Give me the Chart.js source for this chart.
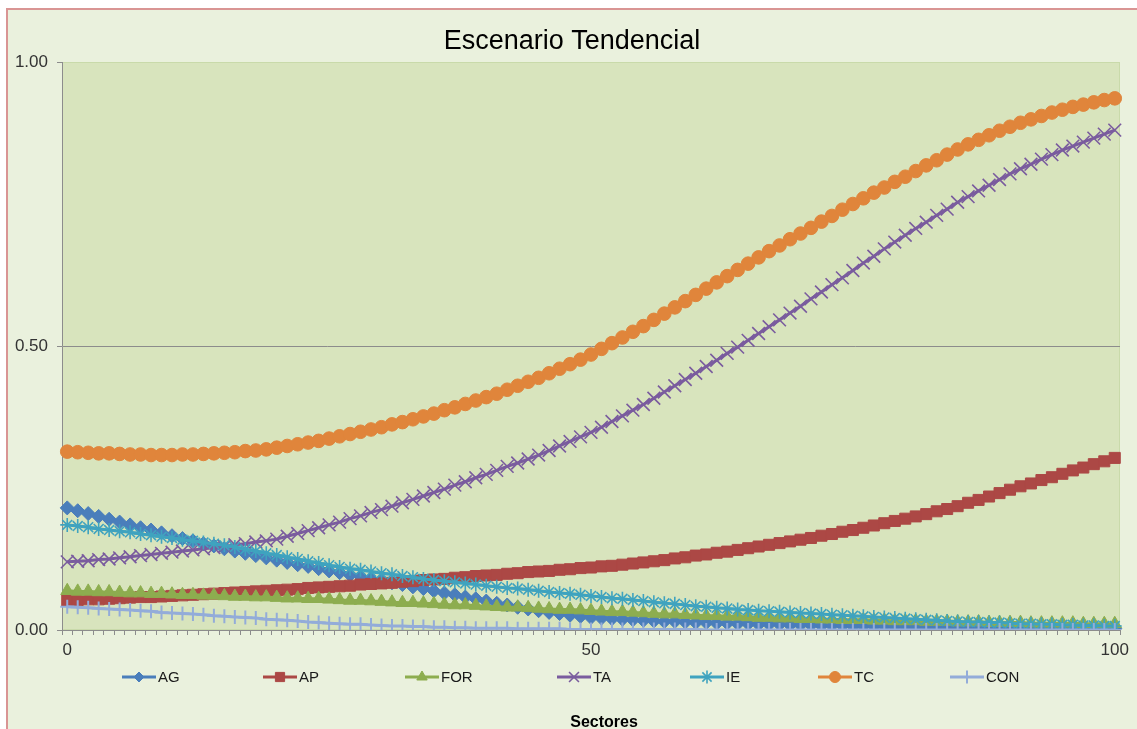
<!DOCTYPE html>
<html>
<head>
<meta charset="utf-8">
<title>Escenario Tendencial</title>
<script src="https://cdn.jsdelivr.net/npm/chart.js@4.4.1/dist/chart.umd.min.js"></script>
<style>
  html, body { margin: 0; padding: 0; background: #ffffff; }
  #wrap { width: 1137px; height: 729px; position: relative; }
  canvas { display: block; }
</style>
</head>
<body>
<div id="wrap"><canvas id="chart" width="1137" height="729"></canvas></div>
<script>
// Sector index along the horizontal axis
const sectors = [
  0,1,2,3,4,5,6,7,8,9,10,11,12,13,14,15,16,17,18,19,20,
  21,22,23,24,25,26,27,28,29,30,31,32,33,34,35,36,37,38,39,40,
  41,42,43,44,45,46,47,48,49,50,51,52,53,54,55,56,57,58,59,60,
  61,62,63,64,65,66,67,68,69,70,71,72,73,74,75,76,77,78,79,80,
  81,82,83,84,85,86,87,88,89,90,91,92,93,94,95,96,97,98,99,100
];
const xTickLabels = ['0', '50', '100'];
const yTicks = [0, 0.5, 1];

const seriesNames = ['AG', 'AP', 'FOR', 'TA', 'IE', 'TC', 'CON'];

const AG = [
  .215,.210,.205,.200,.195,.190,.185,.180,.176,.171,.166,
  .161,.157,.152,.148,.143,.139,.135,.131,.127,.123,
  .119,.115,.112,.108,.104,.101,.097,.094,.090,.087,
  .083,.080,.076,.073,.069,.065,.062,.058,.055,.051,
  .047,.044,.040,.037,.034,.031,.029,.026,.024,.022,
  .021,.020,.019,.018,.017,.016,.015,.015,.014,.013,
  .013,.012,.012,.011,.011,.010,.010,.010,.009,.009,
  .009,.008,.008,.008,.007,.007,.007,.007,.006,.006,
  .006,.006,.005,.005,.005,.005,.005,.004,.004,.004,
  .004,.004,.004,.003,.003,.003,.003,.003,.003,.003
];
const AP = [
  .052,.053,.054,.054,.055,.056,.057,.058,.058,.059,.060,
  .061,.062,.063,.064,.065,.066,.067,.068,.069,.070,
  .071,.072,.074,.075,.076,.077,.078,.080,.081,.082,
  .083,.085,.086,.088,.089,.090,.092,.093,.095,.096,
  .097,.099,.100,.102,.103,.104,.106,.107,.109,.110,
  .112,.113,.115,.117,.119,.121,.123,.126,.128,.131,
  .133,.136,.138,.141,.144,.147,.150,.153,.156,.159,
  .162,.166,.169,.173,.176,.180,.184,.188,.192,.196,
  .200,.204,.209,.213,.218,.224,.229,.235,.241,.247,
  .253,.258,.264,.269,.275,.281,.286,.292,.297,.303
];
const FOR = [
  .069,.068,.068,.067,.067,.066,.065,.065,.064,.064,.063,
  .062,.062,.061,.061,.060,.059,.059,.058,.058,.057,
  .056,.056,.055,.055,.054,.053,.052,.052,.051,.050,
  .049,.048,.048,.047,.046,.045,.044,.044,.043,.042,
  .041,.040,.040,.039,.038,.037,.036,.036,.035,.034,
  .033,.032,.032,.031,.030,.029,.028,.028,.027,.026,
  .025,.025,.024,.024,.023,.022,.022,.021,.021,.020,
  .020,.019,.019,.018,.018,.018,.017,.017,.016,.016,
  .016,.015,.015,.015,.014,.014,.014,.013,.013,.013,
  .013,.012,.012,.012,.012,.012,.011,.011,.011,.011
];
const TA = [
  .120,.121,.122,.124,.125,.127,.129,.131,.133,.135,.137,
  .139,.141,.143,.145,.147,.150,.152,.155,.157,.160,
  .165,.170,.175,.180,.185,.190,.196,.201,.207,.212,
  .218,.224,.230,.236,.242,.248,.255,.261,.268,.274,
  .281,.288,.294,.301,.308,.316,.324,.332,.340,.348,
  .357,.367,.377,.387,.397,.408,.419,.430,.441,.452,
  .464,.475,.487,.498,.510,.522,.534,.546,.558,.570,
  .583,.595,.608,.620,.633,.646,.658,.671,.683,.695,
  .707,.718,.730,.741,.753,.763,.773,.783,.793,.803,
  .812,.820,.829,.837,.845,.852,.859,.866,.873,.880
];
const IE = [
  .185,.183,.181,.178,.176,.174,.172,.169,.167,.164,.162,
  .159,.157,.154,.152,.149,.146,.142,.139,.135,.132,
  .128,.125,.121,.118,.114,.111,.108,.106,.103,.100,
  .098,.095,.093,.090,.088,.086,.084,.082,.080,.078,
  .076,.074,.073,.071,.069,.067,.065,.064,.062,.060,
  .058,.056,.055,.053,.051,.049,.047,.046,.044,.042,
  .041,.039,.038,.036,.035,.034,.033,.032,.031,.030,
  .029,.028,.027,.026,.025,.024,.023,.022,.021,.020,
  .019,.018,.017,.016,.015,.014,.014,.013,.013,.012,
  .011,.011,.010,.010,.009,.009,.008,.008,.007,.007
];
const TC = [
  .314,.313,.312,.311,.311,.310,.309,.309,.308,.308,.308,
  .309,.309,.310,.311,.312,.313,.315,.316,.318,.321,
  .324,.327,.330,.333,.337,.341,.345,.349,.353,.357,
  .362,.366,.371,.376,.381,.387,.392,.398,.404,.410,
  .416,.423,.430,.437,.444,.452,.460,.468,.476,.485,
  .495,.505,.515,.525,.535,.546,.557,.568,.579,.590,
  .601,.612,.623,.634,.645,.656,.667,.677,.688,.698,
  .708,.719,.729,.740,.750,.760,.770,.779,.789,.798,
  .808,.818,.827,.837,.846,.855,.863,.871,.879,.886,
  .893,.899,.905,.911,.916,.921,.925,.929,.933,.936
];
const CON = [
  .041,.040,.039,.038,.037,.036,.035,.034,.033,.031,.030,
  .029,.028,.027,.025,.024,.023,.022,.021,.019,.018,
  .017,.016,.014,.013,.012,.011,.010,.010,.009,.008,
  .007,.007,.006,.006,.005,.005,.004,.004,.003,.003,
  .003,.003,.002,.002,.002,.002,.002,.001,.001,.001,
  .001,.001,.001,.001,.001,.001,.001,.001,.001,.001,
  0,0,0,0,0,0,0,0,0,0,
  0,0,0,0,0,0,0,0,0,0,
  0,0,0,0,0,0,0,0,0,0,
  0,0,0,0,0,0,0,0,0,0
];

const seriesValues = [AG, AP, FOR, TA, IE, TC, CON];

// Appearance of each series: line colour, marker shape and size
const styles = [
  { color: '#4A7EBB', fill: '#4A7EBB', point: 'rectRot',  radius: 7,   pbw: 1,   legendR: 5 },
  { color: '#AC4845', fill: '#AC4845', point: 'rect',     radius: 7.8, pbw: 1,   legendR: 6.5 },
  { color: '#8DAD4F', fill: '#8DAD4F', point: 'triangle', radius: 7.5, pbw: 1,   legendR: 6 },
  { color: '#7A5C9E', fill: '#7A5C9E', point: 'crossRot', radius: 9,   pbw: 1.6, legendR: 7 },
  { color: '#3FA3BF', fill: '#3FA3BF', point: 'star',     radius: 7,   pbw: 1.6, legendR: 6.5 },
  { color: '#E0853B', fill: '#E0853B', point: 'circle',   radius: 6.8, pbw: 1,   legendR: 5.5 },
  { color: '#93ACD9', fill: '#93ACD9', point: 'cross',    radius: 7,   pbw: 2,   legendR: 6.5 }
];

const datasets = seriesNames.map((name, i) => ({
  label: name,
  data: seriesValues[i],
  borderColor: styles[i].color,
  backgroundColor: styles[i].fill,
  borderWidth: 3,
  pointStyle: styles[i].point,
  pointRadius: styles[i].radius,
  pointHoverRadius: styles[i].radius,
  pointBackgroundColor: styles[i].fill,
  pointBorderColor: styles[i].color,
  pointBorderWidth: styles[i].pbw,
  tension: 0,
  fill: false,
  order: seriesNames.length - i
}));

const AXIS_GREY = '#8C8C8C';
const TEXT = '#333333';

// Background, frame and plot area fill
const backdrop = {
  id: 'backdrop',
  beforeDraw(chart) {
    const { ctx, chartArea: a, width, height } = chart;
    ctx.save();
    ctx.fillStyle = '#ffffff';
    ctx.fillRect(0, 0, width, height);
    ctx.fillStyle = '#EAF1DD';
    ctx.fillRect(7, 9, width, height);
    ctx.strokeStyle = '#D99594';
    ctx.lineWidth = 2;
    ctx.strokeRect(7, 9, width + 20, height + 20);
    ctx.fillStyle = '#D8E4BD';
    ctx.fillRect(a.left, a.top, a.right - a.left, a.bottom - a.top);
    ctx.strokeStyle = '#C9DAAA';
    ctx.lineWidth = 1;
    ctx.strokeRect(a.left + 0.5, a.top + 0.5, a.right - a.left - 1, a.bottom - a.top - 1);
    ctx.restore();
  }
};

// Title, legend row and axis title
const annotations = {
  id: 'annotations',
  afterDraw(chart) {
    const { ctx } = chart;
    ctx.save();
    ctx.fillStyle = '#000000';
    ctx.font = '27px "Liberation Sans", Arial, sans-serif';
    ctx.textAlign = 'center';
    ctx.textBaseline = 'alphabetic';
    ctx.fillText('Escenario Tendencial', 572, 49);

    const legendX = [122, 263, 405, 557, 690, 818, 950];
    const ly = 677;
    ctx.font = '15px "Liberation Sans Narrow", "Liberation Sans", Arial, sans-serif';
    ctx.textAlign = 'left';
    ctx.textBaseline = 'middle';
    seriesNames.forEach((name, i) => {
      const s = styles[i];
      const x0 = legendX[i];
      ctx.strokeStyle = s.color;
      ctx.lineWidth = 3;
      ctx.beginPath();
      ctx.moveTo(x0, ly);
      ctx.lineTo(x0 + 34, ly);
      ctx.stroke();
      ctx.fillStyle = s.fill;
      ctx.strokeStyle = s.color;
      ctx.lineWidth = s.pbw;
      Chart.helpers.drawPoint(ctx, { pointStyle: s.point, radius: s.legendR, rotation: 0, borderWidth: s.pbw }, x0 + 17, ly);
      ctx.fillStyle = '#1a1a1a';
      ctx.fillText(name, x0 + 36, ly + 1);
    });

    ctx.fillStyle = '#000000';
    ctx.font = 'bold 16px "Liberation Sans", Arial, sans-serif';
    ctx.textAlign = 'center';
    ctx.textBaseline = 'alphabetic';
    ctx.fillText('Sectores', 604, 727);
    ctx.restore();
  }
};

new Chart(document.getElementById('chart'), {
  type: 'line',
  data: { labels: sectors, datasets },
  options: {
    responsive: false,
    animation: false,
    layout: { padding: { top: 62, left: 0, right: 17, bottom: 0 } },
    plugins: {
      legend: { display: false },
      title: { display: false },
      tooltip: { enabled: false }
    },
    scales: {
      x: {
        type: 'category',
        offset: true,
        afterFit(scale) { scale.height = 99; },
        grid: {
          offset: true,
          drawOnChartArea: false,
          drawTicks: true,
          tickLength: 5,
          tickColor: AXIS_GREY,
          color: AXIS_GREY
        },
        border: { color: AXIS_GREY, width: 1 },
        ticks: {
          autoSkip: false,
          maxRotation: 0,
          minRotation: 0,
          padding: 5,
          color: TEXT,
          font: { family: '"Liberation Sans", Arial, sans-serif', size: 17 },
          callback(value, index) {
            const lbl = String(sectors[index]);
            return xTickLabels.includes(lbl) ? lbl : '';
          }
        }
      },
      y: {
        min: yTicks[0],
        max: yTicks[yTicks.length - 1],
        afterFit(scale) { scale.width = 62; },
        afterBuildTicks(scale) { scale.ticks = yTicks.map(v => ({ value: v })); },
        grid: {
          drawTicks: true,
          tickLength: 5,
          tickColor: AXIS_GREY,
          color: (c) => (c.tick && c.tick.value === 0.5) ? AXIS_GREY : 'rgba(0,0,0,0)'
        },
        border: { color: AXIS_GREY, width: 1 },
        ticks: {
          padding: 9,
          color: TEXT,
          font: { family: '"Liberation Sans", Arial, sans-serif', size: 17 },
          callback: (v) => Number(v).toFixed(2)
        }
      }
    }
  },
  plugins: [backdrop, annotations]
});
</script>
</body>
</html>
